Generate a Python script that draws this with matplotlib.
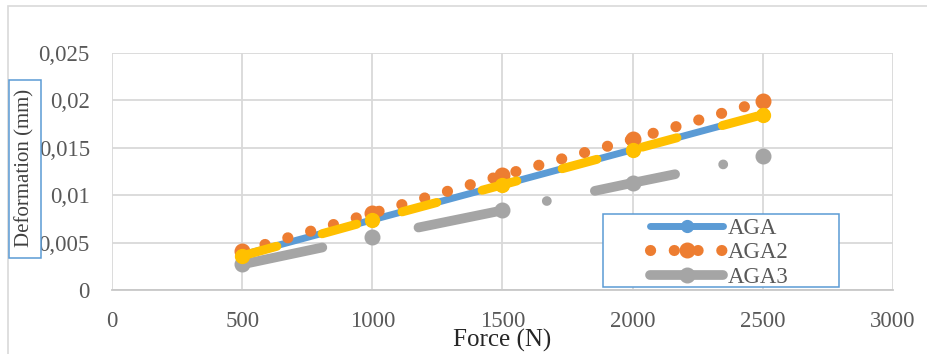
import matplotlib
matplotlib.use("Agg")
import matplotlib.pyplot as plt
from matplotlib.patches import Rectangle
from matplotlib.ticker import FuncFormatter, MultipleLocator

# load vs. deformation for the three AGA samples (plus the yellow overlay series)
force = [500, 1000, 1500, 2000, 2500]
aga = [0.0037, 0.0074, 0.0111, 0.0148, 0.0185]
aga2 = [0.0041, 0.0081, 0.0121, 0.0159, 0.0199]
aga3 = [0.0027, 0.0056, 0.0084, 0.0113, 0.0141]
aga4 = [0.0036, 0.0074, 0.0111, 0.0148, 0.0185]

plt.rcParams['font.family'] = ['Liberation Serif', 'DejaVu Serif']
plt.rcParams['lines.scale_dashes'] = False

W, H = 928, 354
fig = plt.figure(figsize=(W / 100, H / 100), dpi=100)
ax = fig.add_axes([112 / W, 1 - 290 / H, (893 - 112) / W, (290 - 53) / H])

blue, orange, gray, yellow = "#5B9BD5", "#ED7D31", "#A5A5A5", "#FFC000"

l1, = ax.plot(force, aga, color=blue, lw=5, marker="o", ms=8.5,
              solid_capstyle="round", label="AGA")
l2, = ax.plot(force, aga2, color=orange, lw=8, marker="o", ms=10.5,
              dashes=(0.1, 17.0), dash_capstyle="round", label="AGA2")
l3, = ax.plot(force, aga3, color=gray, lw=7, marker="o", ms=10.5,
              dashes=(59, 35.3, 0.1, 35.3), dash_capstyle="round", label="AGA3")
l4, = ax.plot(force, aga4, color=yellow, lw=6.5, marker="o", ms=10,
              dashes=(25.9, 33.8), dash_capstyle="round")

ax.set_xlim(0, 3000)
ax.set_ylim(0, 0.025)
ax.xaxis.set_major_locator(MultipleLocator(500))
ax.yaxis.set_major_locator(MultipleLocator(0.005))
ax.yaxis.set_major_formatter(FuncFormatter(lambda v, p: f"{v:g}".replace(".", ",")))
ax.grid(True, color="#D9D9D9", lw=1.3)
ax.set_axisbelow(True)
for s in ax.spines.values():
    s.set_visible(False)
ax.spines["bottom"].set_visible(True)
ax.spines["bottom"].set_color("#C8C8C8")
ax.spines["bottom"].set_linewidth(1.3)
ax.tick_params(length=0, labelsize=16.5, labelcolor="#595959")
ax.tick_params(axis="y", pad=16)
ax.tick_params(axis="x", pad=15)

# outer chart border
fig.add_artist(Rectangle((7.5 / W, -0.1), 2, 1.1 - 5.5 / H, transform=fig.transFigure,
                         fill=False, ec="#D9D9D9", lw=1.2, zorder=1))

fig.text(502.5 / W, 1 - 347 / H, "Force (N)", ha="center", va="baseline",
         fontsize=18, color="#262626")

# boxed y-axis title
fig.add_artist(Rectangle((9 / W, 1 - 257.5 / H), 32 / W, 178 / H, transform=fig.transFigure,
                         fc="white", ec=blue, lw=1.1, zorder=2))
fig.text(25 / W, 1 - 167.5 / H, "Deformation (mm)", rotation=90, ha="center", va="center",
         fontsize=15, color="#404040", zorder=3)

# legend in its own wide frame
fig.add_artist(Rectangle((603 / W, 1 - 287 / H), 236 / W, 73 / H, transform=fig.transFigure,
                         fc="white", ec=blue, lw=1.1, zorder=2))
fig.legend(handles=[l1, l2, l3], loc="upper left", bbox_to_anchor=(650 / W, 1 - 217.5 / H),
           frameon=False, fontsize=16.5, labelcolor="#595959", borderpad=0,
           borderaxespad=0, labelspacing=0.16, handlelength=3.2, handletextpad=0.2,
           numpoints=1).set_zorder(3)

fig.savefig("out.png", dpi=100)
